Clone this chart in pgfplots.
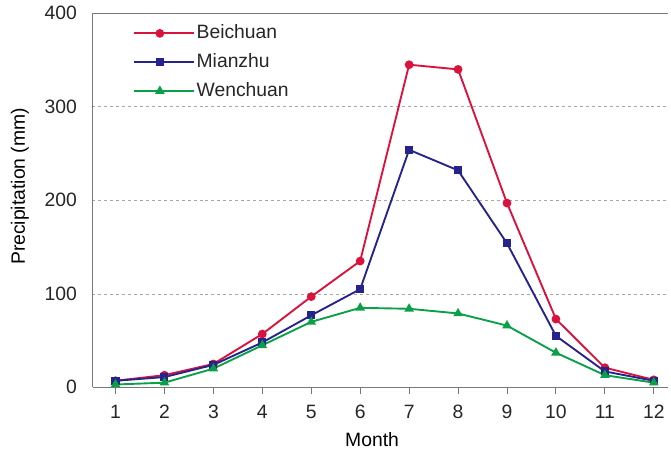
\documentclass[border=0pt]{standalone}
\usepackage{fontspec}
\setmainfont{Liberation Sans}
\usepackage{pgfplots}
\pgfplotsset{compat=1.18}
\definecolor{cBei}{RGB}{220,18,62}
\definecolor{cMian}{RGB}{38,36,140}
\definecolor{cWen}{RGB}{10,160,72}
\definecolor{cAx}{RGB}{120,120,120}
\newcommand{\fs}{\fontsize{19.5}{23}\selectfont}
\begin{document}
\begin{tikzpicture}
\fs
\begin{axis}[
  scale only axis,
  width=578bp, height=376bp,
  xmin=0.53, xmax=12.28,
  ymin=0, ymax=400,
  xtick={1,...,12},
  ytick={0,100,200,300,400},
  axis lines*=left,
  axis line style={cAx, line width=1.3pt},
  x tick style={cAx, line width=1pt},
  tick align=outside,
  major tick length=7bp,
  ytick style={draw=none},
  ymajorgrids,
  grid style={dashed, gray!70, line width=0.6pt},
  /pgf/number format/assume math mode=true,
  ticklabel style={font=\fs, text=black!85},
  xticklabel style={yshift=-4bp},
  yticklabel style={xshift=-2bp},
  label style={font=\fs, text=black!85},
  xlabel={Month},
  ylabel={Precipitation (mm)},
  every axis y label/.style={at={(rel axis cs:0,0.5)}, rotate=90, anchor=center, yshift=73bp, xshift=14bp},
  every axis x label/.style={at={(rel axis cs:0.5,0)}, anchor=center, xshift=-8bp, yshift=-53bp},
  legend style={at={(rel axis cs:0.065,0.98)}, anchor=north west, draw=none, fill=none,
     font=\fs, row sep=8bp, text=black!85},
  legend cell align=left,
  legend image code/.code={
    \draw[mark repeat=2, mark phase=2, #1] plot coordinates {(0bp,0bp) (26bp,0bp) (52bp,0bp)};
    \path (0bp,0bp) -- (60bp,0bp);
  },
  every axis plot/.append style={line width=1.9pt},
  clip=false,
]
\addplot[cBei, mark=*, mark size=3.4bp] coordinates {
 (1,7) (2,13) (3,25) (4,57) (5,97) (6,135) (7,345) (8,340) (9,197) (10,73) (11,21) (12,8)};
\addlegendentry{Beichuan}
\addplot[cMian, mark=square*, mark size=3.1bp] coordinates {
 (1,7) (2,11) (3,24) (4,48) (5,77) (6,105) (7,254) (8,232) (9,154) (10,55) (11,17) (12,7)};
\addlegendentry{Mianzhu}
\addplot[cWen, mark=triangle*, mark size=3.7bp] coordinates {
 (1,3) (2,5) (3,20) (4,45) (5,70) (6,85) (7,84) (8,79) (9,66) (10,37) (11,13) (12,5)};
\addlegendentry{Wenchuan}
\draw[cAx, line width=1.3pt] (rel axis cs:0,1) -- (rel axis cs:1,1);
\end{axis}
\path[use as bounding box] (-93bp,-63bp) rectangle (578bp,388bp);
\end{tikzpicture}
\end{document}
